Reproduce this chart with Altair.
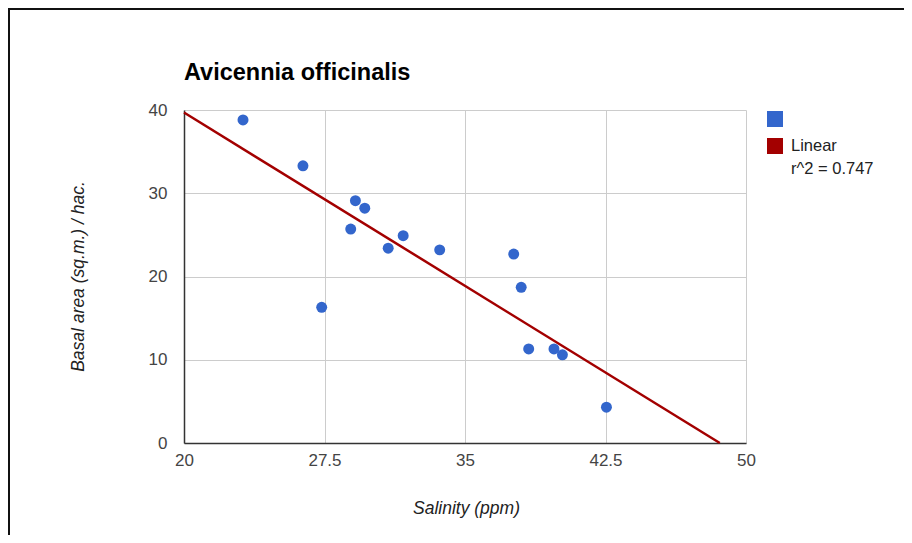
import altair as alt
import pandas as pd

# Data
salinity = [23.15, 26.35, 27.35, 28.9, 29.15, 29.65, 30.9, 31.7, 33.65, 37.6, 38.0, 38.4, 39.75, 40.2, 42.55]
basal = [38.8, 33.3, 16.3, 25.7, 29.1, 28.2, 23.4, 24.9, 23.2, 22.7, 18.7, 11.3, 11.3, 10.6, 4.3]
trend_x = [20, 48.6]
trend_y = [39.7, 0]
x_ticks = [20, 27.5, 35, 42.5, 50]
y_ticks = [0, 10, 20, 30, 40]
title_text = "Avicennia officinalis"
legend_labels = ["", "Linear", "r^2 = 0.747"]

FONT = "Liberation Sans"
BLUE = "#3366cc"
RED = "#a30000"

pts = pd.DataFrame({"x": salinity, "y": basal})
trend = pd.DataFrame({"x": trend_x, "y": trend_y})

xscale = alt.Scale(domain=[20, 50], nice=False, zero=False)
yscale = alt.Scale(domain=[0, 40], nice=False, zero=False)

xaxis = alt.Axis(values=x_ticks, format=".3~g", title="Salinity (ppm)", grid=True,
                 gridColor="#cccccc", domainColor="#333333", domainWidth=1.5,
                 ticks=False, tickSize=0, labelPadding=9, labelFlush=False,
                 labelFont=FONT, labelFontSize=17,
                 labelColor="#444444", titleFont=FONT, titleFontSize=17.5,
                 titleFontStyle="italic", titleFontWeight="normal", titleColor="#222222",
                 titleX=282, titleY=70, titleBaseline="alphabetic", titleAlign="center")
yaxis = alt.Axis(values=y_ticks, format=".3~g", title="Basal area (sq.m.) / hac.", grid=True,
                 gridColor="#cccccc", domainColor="#333333", domainWidth=1.5,
                 ticks=False, tickSize=0, labelPadding=17, labelFlush=False,
                 labelFont=FONT, labelFontSize=17,
                 labelColor="#444444", titleFont=FONT, titleFontSize=17.5,
                 titleFontStyle="italic", titleFontWeight="normal", titleColor="#222222",
                 titleX=-101, titleY=166, titleAngle=-90, titleBaseline="alphabetic",
                 titleAlign="center")

points = alt.Chart(pts).mark_circle(size=120, color=BLUE, opacity=1).encode(
    x=alt.X("x:Q", scale=xscale, axis=xaxis),
    y=alt.Y("y:Q", scale=yscale, axis=yaxis),
)

line = alt.Chart(trend).mark_line(color=RED, strokeWidth=2.5).encode(
    x=alt.X("x:Q", scale=xscale),
    y=alt.Y("y:Q", scale=yscale),
)

one = pd.DataFrame({"k": [0]})

title = alt.Chart(one).mark_text(text=title_text, font=FONT, fontSize=23.5, fontWeight="bold",
                                 color="#000000", align="left", baseline="alphabetic").encode(
    x=alt.value(0), y=alt.value(-30))

leg_blue = alt.Chart(one).mark_square(size=256, color=BLUE, opacity=1).encode(
    x=alt.value(591), y=alt.value(9))
leg_red = alt.Chart(one).mark_square(size=256, color=RED, opacity=1).encode(
    x=alt.value(591), y=alt.value(36))
leg_t1 = alt.Chart(one).mark_text(text=legend_labels[1], font=FONT, fontSize=16.5,
                                  color="#222222", align="left", baseline="middle").encode(
    x=alt.value(607), y=alt.value(36))
leg_t2 = alt.Chart(one).mark_text(text=legend_labels[2], font=FONT, fontSize=16.5,
                                  color="#222222", align="left", baseline="middle").encode(
    x=alt.value(607), y=alt.value(59))

frame_top = alt.Chart(one).mark_rule(color="#111111", strokeWidth=2).encode(
    x=alt.value(-176), x2=alt.value(720), y=alt.value(-101))
frame_left = alt.Chart(one).mark_rule(color="#111111", strokeWidth=2).encode(
    x=alt.value(-175), y=alt.value(-102), y2=alt.value(425))

chart = alt.layer(line, points, title, leg_blue, leg_red, leg_t1, leg_t2,
                  frame_top, frame_left).properties(
    width=562, height=333,
    autosize=alt.AutoSizeParams(type="none"),
    padding={"left": 176, "top": 102, "right": 158, "bottom": 92},
    background="white",
).configure_view(stroke=None)

chart.save("out.html", embed_options={"renderer": "svg", "actions": False})
